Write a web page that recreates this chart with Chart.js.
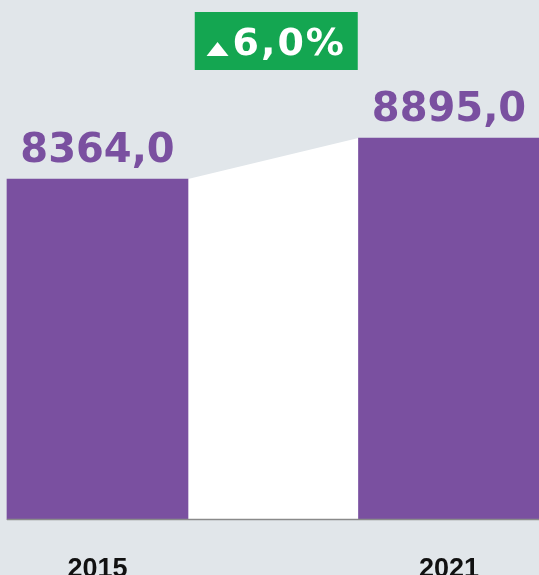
<!DOCTYPE html>
<html>
<head>
<meta charset="utf-8">
<script src="https://cdn.jsdelivr.net/npm/chart.js@4"></script>
<style>
    html, body { margin: 0; padding: 0; background: #e1e6ea; overflow: hidden; }
    #wrap { width: 539px; height: 620px; position: relative; }
</style>
</head>
<body>
<div id="wrap"><canvas id="bar-chart"></canvas></div>
<script>
// Datos
const years = ['2015', '2021'];
const values = [8364.0, 8895.0];
const changeLabel = '6,0%';

const purple = '#7a50a0';
const green = '#14a651';
const axisMin = 3960;
const axisMax = 10680;

function formatValue(v) {
    return v.toFixed(1).replace('.', ',');
}

// Puente blanco entre barras, línea base, etiquetas y caja de variación
const bridgePlugin = {
    id: 'bridge',
    beforeDatasetsDraw(chart) {
        const ctx = chart.ctx;
        const bars = chart.getDatasetMeta(0).data;
        const a = bars[0], b = bars[1];
        const x1 = a.x + a.width / 2;
        const x2 = b.x - b.width / 2;
        ctx.save();
        ctx.fillStyle = '#ffffff';
        ctx.beginPath();
        ctx.moveTo(x1, a.y);
        ctx.lineTo(x2, b.y);
        ctx.lineTo(x2, b.base);
        ctx.lineTo(x1, a.base);
        ctx.closePath();
        ctx.fill();
        ctx.restore();
    },
    afterDatasetsDraw(chart) {
        const ctx = chart.ctx;
        const bars = chart.getDatasetMeta(0).data;
        const a = bars[0], b = bars[1];
        ctx.save();

        // línea base
        ctx.strokeStyle = '#8a8a8a';
        ctx.lineWidth = 1.5;
        ctx.beginPath();
        ctx.moveTo(a.x - a.width / 2, a.base);
        ctx.lineTo(b.x + b.width / 2, b.base);
        ctx.stroke();

        // valores encima de las barras
        ctx.fillStyle = purple;
        ctx.font = 'bold 40px "DejaVu Sans"';
        ctx.textAlign = 'center';
        ctx.textBaseline = 'alphabetic';
        bars.forEach((bar, i) => {
            ctx.fillText(formatValue(values[i]), bar.x, bar.y - 17);
        });

        // caja verde con la variación
        const gapCenter = ((a.x + a.width / 2) + (b.x - b.width / 2)) / 2 + 3;
        const boxW = 163, boxH = 58, boxTop = 12;
        ctx.fillStyle = green;
        ctx.fillRect(gapCenter - boxW / 2, boxTop, boxW, boxH);

        ctx.font = 'bold 38px "DejaVu Sans"';
        ctx.letterSpacing = '2px';
        ctx.textAlign = 'left';
        const textW = ctx.measureText(changeLabel).width;
        const triW = 22, triH = 14, gap = 4;
        const startX = gapCenter - (triW + gap + textW) / 2;
        const baseY = boxTop + 43;
        ctx.fillStyle = '#ffffff';
        ctx.beginPath();
        ctx.moveTo(startX, baseY + 1);
        ctx.lineTo(startX + triW, baseY + 1);
        ctx.lineTo(startX + triW / 2, baseY + 1 - triH);
        ctx.closePath();
        ctx.fill();
        ctx.fillText(changeLabel, startX + triW + gap, baseY);

        ctx.restore();
    }
};

window.barChart = new Chart(document.getElementById('bar-chart'), {
    type: 'bar',
    data: {
        labels: years,
        datasets: [{
            label: 'Valor',
            data: values,
            base: axisMin,
            backgroundColor: purple,
            barThickness: 181,
            clip: false
        }]
    },
    options: {
        responsive: true,
        maintainAspectRatio: false,
        animation: false,
        layout: {
            padding: { left: 97.5, right: 90, top: 0, bottom: 0 }
        },
        plugins: {
            legend: { display: false },
            tooltip: { enabled: false }
        },
        scales: {
            x: {
                offset: false,
                grid: { display: false, drawTicks: false },
                border: { display: false },
                ticks: {
                    color: '#111111',
                    padding: 34,
                    maxRotation: 0,
                    minRotation: 0,
                    autoSkip: false,
                    font: { family: '"Liberation Sans"', size: 27, weight: 'bold' }
                }
            },
            y: {
                display: false,
                min: axisMin,
                max: axisMax
            }
        }
    },
    plugins: [bridgePlugin]
});
</script>
</body>
</html>
